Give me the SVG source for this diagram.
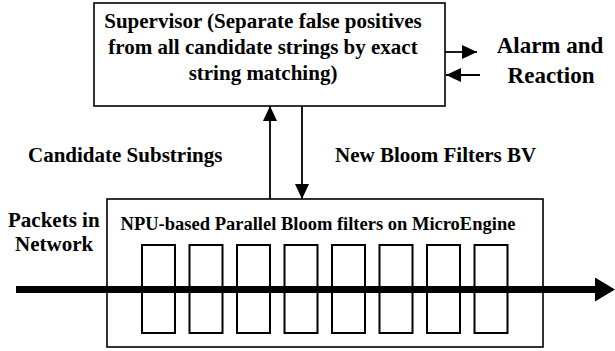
<svg xmlns="http://www.w3.org/2000/svg" width="615" height="351" viewBox="0 0 615 351">
  <style>
    text { font-family: "Liberation Serif", "Times New Roman", serif; font-weight: bold; fill: #000; }
    .lbl { font-size: 21px; }
    .big { font-size: 23px; }
    .npu { font-size: 18.5px; }
    .box { fill: #fff; stroke: #000; stroke-width: 1.6; }
    .cell { fill: none; stroke: #000; stroke-width: 2; }
    .conn { stroke: #000; stroke-width: 1.8; fill: none; }
  </style>
  <defs>
    <marker id="ah" markerUnits="userSpaceOnUse" markerWidth="15" markerHeight="14" refX="15" refY="7" orient="auto">
      <path d="M0,0 L15,7 L0,14 z" fill="#000"/>
    </marker>
    <marker id="bigah" markerUnits="userSpaceOnUse" markerWidth="21" markerHeight="24" refX="0" refY="12" orient="auto">
      <path d="M0,0 L20,12 L0,24 z" fill="#000"/>
    </marker>
  </defs>

  <g id="supervisor">
    <rect class="box" x="94" y="3" width="351" height="103"/>
    <text class="lbl" x="263" y="28" text-anchor="middle">Supervisor (Separate false positives</text>
    <text class="lbl" x="263" y="54" text-anchor="middle">from all candidate strings by exact</text>
    <text class="lbl" x="263" y="80" text-anchor="middle">string matching)</text>
  </g>

  <g id="alarm">
    <text class="big" x="550" y="53" text-anchor="middle">Alarm and</text>
    <text class="big" x="551" y="83" text-anchor="middle">Reaction</text>
  </g>

  <g id="npu">
    <rect class="box" x="107" y="199" width="436" height="148"/>
    <text class="npu" x="318" y="230" text-anchor="middle">NPU-based Parallel Bloom filters on MicroEngine</text>
    <rect class="cell" x="142" y="245" width="33" height="88"/>
    <rect class="cell" x="189.5" y="245" width="33" height="88"/>
    <rect class="cell" x="237" y="245" width="33" height="88"/>
    <rect class="cell" x="284.5" y="245" width="33" height="88"/>
    <rect class="cell" x="332" y="245" width="33" height="88"/>
    <rect class="cell" x="379.5" y="245" width="33" height="88"/>
    <rect class="cell" x="427" y="245" width="33" height="88"/>
    <rect class="cell" x="474.5" y="245" width="33" height="88"/>
  </g>

  <g id="labels">
    <text class="lbl" x="28" y="162">Candidate Substrings</text>
    <text class="lbl" x="335" y="162">New Bloom Filters BV</text>
    <text class="lbl" x="8" y="227">Packets in</text>
    <text class="lbl" x="15" y="251">Network</text>
  </g>

  <g id="connectors">
    <line class="conn" x1="270" y1="199" x2="270" y2="106" marker-end="url(#ah)"/>
    <line class="conn" x1="302" y1="106" x2="302" y2="199" marker-end="url(#ah)"/>
    <line class="conn" x1="445" y1="52" x2="477" y2="52" marker-end="url(#ah)"/>
    <line class="conn" x1="480" y1="75" x2="446" y2="75" marker-end="url(#ah)"/>
    <line x1="16" y1="289.5" x2="595" y2="289.5" stroke="#000" stroke-width="7" marker-end="url(#bigah)"/>
  </g>
</svg>
